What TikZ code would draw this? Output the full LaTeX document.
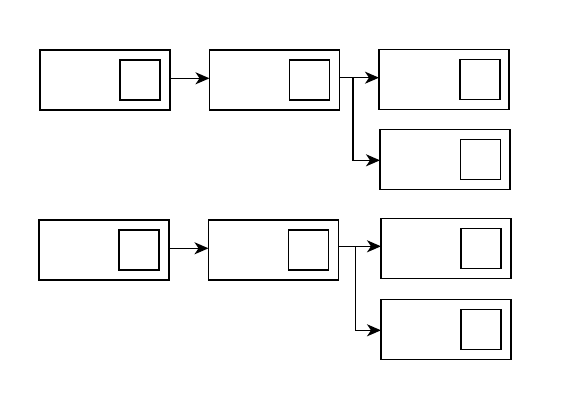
\documentclass[tikz,border=0pt]{standalone}
\usetikzlibrary{arrows.meta,calc}
\begin{document}
\begin{tikzpicture}[x=1pt,y=-1pt,
  outerbox/.style={draw,line width=1.5pt,minimum width=130pt,minimum height=60pt,inner sep=0pt,outer sep=0pt},
  innerbox/.style={draw,line width=1.5pt,minimum width=40pt,minimum height=40pt,inner sep=0pt,outer sep=0pt},
  conn/.style={line width=1.5pt,-{Stealth[length=14pt,width=12pt,inset=4pt]}},
  plain/.style={line width=1.5pt}]
\useasboundingbox (0,0) rectangle (576,400);
% top group
\node[outerbox] (b1) at (105,80) {};
\node[innerbox] (s1) at (140,80) {};
\node[outerbox] (b2) at (274.5,80) {};
\node[innerbox] (s2) at (309.5,80) {};
\node[outerbox] (b3) at (444,79.3) {};
\node[innerbox] (s3) at (480,79.3) {};
\node[outerbox] (b4) at (445,159.3) {};
\node[innerbox] (s4) at (480.5,159.3) {};
\coordinate (j1) at (353,77.7);
\coordinate (j1b) at (353,160.3);
\draw[conn] ([yshift=1.7pt]b1.east) -- ([yshift=1.7pt]b2.west);
\draw[plain] ([yshift=2.3pt]b2.east) -- (j1);
\draw[conn] (j1) -- (j1 -| b3.west);
\draw[conn] (j1) -- (j1b) -- (j1b -| b4.west);
% bottom group
\node[outerbox] (b5) at (104,250) {};
\node[innerbox] (s5) at (139,250) {};
\node[outerbox] (b6) at (273.5,250) {};
\node[innerbox] (s6) at (308.5,250) {};
\node[outerbox] (b7) at (446,248.3) {};
\node[innerbox] (s7) at (481,248.3) {};
\node[outerbox] (b8) at (446,329.3) {};
\node[innerbox] (s8) at (481,329.3) {};
\coordinate (j2) at (355.3,246.3);
\coordinate (j2b) at (355.3,330.3);
\draw[conn] ([yshift=1.7pt]b5.east) -- ([yshift=1.7pt]b6.west);
\draw[plain] ([yshift=3.7pt]b6.east) -- (j2);
\draw[conn] (j2) -- (j2 -| b7.west);
\draw[conn] (j2) -- (j2b) -- (j2b -| b8.west);
\end{tikzpicture}
\end{document}
